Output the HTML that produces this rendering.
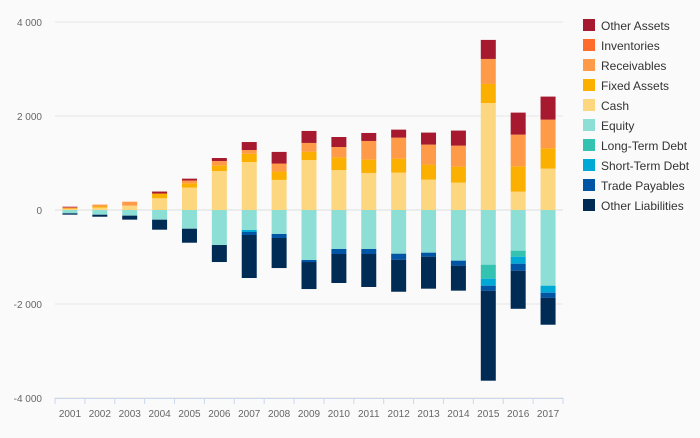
<!DOCTYPE html>
<html><head><meta charset="utf-8"><style>
body{margin:0;background:#fafafa;font-family:"Liberation Sans",sans-serif;}
svg text{font-family:"Liberation Sans",sans-serif;}
</style></head><body>
<svg id="chart" width="700" height="433" xmlns="http://www.w3.org/2000/svg">
<rect width="700" height="433" fill="#fafafa"/>
<g id="grid"></g><g id="bars"></g><g id="axes"></g><g id="legend"></g>
</svg>
<script>
const years=["2001","2002","2003","2004","2005","2006","2007","2008","2009","2010","2011","2012","2013","2014","2015","2016","2017"];
const cash=[20,50,92,250,477,830,1020,640,1064,850,788,795,646,582,2277,390,880];
const fixedAssets=[15,25,0,100,90,120,178,178,178,270,284,298,320,341,405,539,432];
const receivables=[20,40,85,0,60,92,78,170,185,220,397,447,426,447,532,675,611];
const inventories=[0,0,0,0,0,0,0,0,0,0,0,0,0,0,0,0,0];
const otherAssets=[15,0,0,43,40,64,170,248,255,213,170,170,255,320,405,468,490];
const equity=[71,100,120,206,398,745,425,510,1064,830,830,930,908,1078,1164,866,1611];
const longTermDebt=[0,0,0,0,0,0,0,0,0,0,0,0,0,0,298,128,0];
const shortTermDebt=[0,0,0,0,0,0,43,0,0,0,0,0,0,0,149,149,149];
const tradePayables=[0,0,0,0,0,0,64,85,43,106,106,128,85,106,106,149,106];
const otherLiabilities=[28,43,85,213,298,362,915,640,575,617,702,681,681,532,1915,810,575];
const yTicks=[4000,2000,0,-2000,-4000];
const yTickLabels=["4 000","2 000","0","-2 000","-4 000"];
const seriesNames=["Other Assets","Inventories","Receivables","Fixed Assets","Cash","Equity","Long-Term Debt","Short-Term Debt","Trade Payables","Other Liabilities"];
const colors=["#a6192e","#ff6b2b","#ff9a49","#fbb000","#fdd680","#8ddfd6","#33c3b0","#00a8d6","#0055a5","#002b55"];
const NS="http://www.w3.org/2000/svg";
const L=55,R=563,T=22,B=398;
const y=v=>210-v*0.047;
const step=(R-L)/years.length;
const xc=i=>L+(i+0.5)*step;
function mk(tag,attrs,parent){const e=document.createElementNS(NS,tag);for(const k in attrs)e.setAttribute(k,attrs[k]);parent.appendChild(e);return e;}
const grid=document.getElementById('grid'),bars=document.getElementById('bars'),axes=document.getElementById('axes'),leg=document.getElementById('legend');
yTicks.forEach((t,i)=>{
 const ln=mk('line',{x1:L,x2:R,y1:y(t),y2:y(t),stroke:t===0?'#dddddd':'#e6e6e6','stroke-width':1},grid);
 
 
 const tx=mk('text',{x:42,y:y(t)+4,'text-anchor':'end','font-size':10,fill:'#666'},axes);
 tx.textContent=yTickLabels[i];
 
 
});
const ax=mk('line',{x1:L,x2:R,y1:B+0.5,y2:B+0.5,stroke:'#ccd6eb','stroke-width':1},axes);


const pos=[cash,fixedAssets,receivables,inventories,otherAssets];
const posCol=[colors[4],colors[3],colors[2],colors[1],colors[0]];
const neg=[equity,longTermDebt,shortTermDebt,tradePayables,otherLiabilities];
const negCol=[colors[5],colors[6],colors[7],colors[8],colors[9]];
const bw=15;
years.forEach((yr,i)=>{
 let acc=0;
 pos.forEach((s,k)=>{const v=s[i];if(v>0){const r=mk('rect',{x:xc(i)-bw/2,y:y(acc+v),width:bw,height:y(acc)-y(acc+v),fill:posCol[k]},bars);
 
 }acc+=v;});
 acc=0;
 neg.forEach((s,k)=>{const v=s[i];if(v>0){const r=mk('rect',{x:xc(i)-bw/2,y:y(-acc),width:bw,height:y(-acc-v)-y(-acc),fill:negCol[k]},bars);
 
 }acc+=v;});
 const tk=mk('line',{x1:L+i*step,x2:L+i*step,y1:B,y2:B+6,stroke:'#ccd6eb'},axes);
 
 
 const tx=mk('text',{x:xc(i),y:417,'text-anchor':'middle','font-size':10,fill:'#666'},axes);
 tx.textContent=yr;
 
 
});
const tk2=mk('line',{x1:R,x2:R,y1:B,y2:B+6,stroke:'#ccd6eb'},axes);


seriesNames.forEach((n,i)=>{
 const g=mk('g',{},leg);
 
 
 mk('rect',{x:583,y:19+i*20,width:12,height:12,fill:colors[i]},g);
 const t=mk('text',{x:601,y:30+i*20,'font-size':12,fill:'#333'},g);
 t.textContent=n;
});
</script>
</body></html>
